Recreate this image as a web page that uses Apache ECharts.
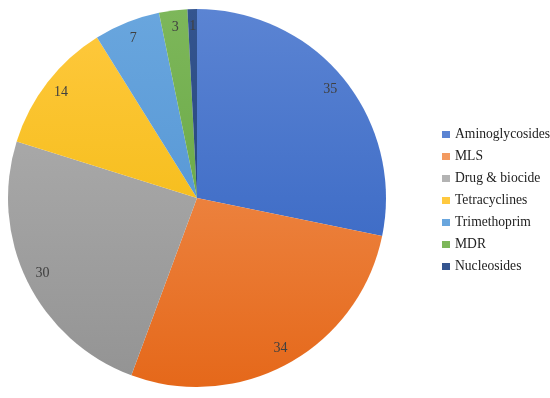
<!DOCTYPE html>
<html>
<head>
<meta charset="utf-8">
<script src="https://cdn.jsdelivr.net/npm/echarts@6/dist/echarts.min.js"></script>
<style>html,body{margin:0;padding:0;background:#fff;}#c{width:550px;height:398px;}</style>
</head>
<body>
<div id="c"></div>
<script>
const categories = ['Aminoglycosides', 'MLS', 'Drug & biocide', 'Tetracyclines', 'Trimethoprim', 'MDR', 'Nucleosides'];
const values = [35, 34, 30, 14, 7, 3, 1];
const topColors = ['#5b84d3', '#f39a60', '#b3b3b3', '#ffc93f', '#69a6de', '#7db75a', '#34558f'];
const bottomColors = ['#2d5ebf', '#e5681a', '#939393', '#eeb500', '#4a8dcf', '#5e9f3a', '#1f3c70'];

const chart = echarts.init(document.getElementById('c'), null, {renderer: 'canvas'});
const cx = 197, cy = 198, R = 189;
function grad(i) {
  return new echarts.graphic.LinearGradient(0, cy - R, 0, cy + R, [
    {offset: 0, color: topColors[i]},
    {offset: 1, color: bottomColors[i]}
  ], true);
}
const mainData = categories.map((n, i) => ({name: n, value: values[i], itemStyle: {color: grad(i)}}));
const labelData = categories.map((n, i) => ({name: n, value: values[i]}));
chart.setOption({
  animation: false,
  color: bottomColors,
  legend: {
    orient: 'vertical',
    left: 437,
    top: 122,
    icon: 'rect',
    itemWidth: 8,
    itemHeight: 7,
    itemGap: 7,
    data: categories.map((n, i) => ({name: n, itemStyle: {color: grad(i)}})),
    textStyle: {fontFamily: 'Liberation Serif', fontSize: 13.6, color: '#222', lineHeight: 15}
  },
  series: [
    {
      type: 'pie',
      center: [cx, cy],
      radius: [0, R],
      startAngle: 90,
      clockwise: true,
      silent: true,
      label: {show: false},
      labelLine: {show: false},
      itemStyle: {borderWidth: 0},
      data: mainData
    },
    {
      type: 'pie',
      center: [cx, cy],
      radius: [149, R],
      startAngle: 90,
      clockwise: true,
      silent: true,
      legendHoverLink: false,
      itemStyle: {color: 'rgba(0,0,0,0)', borderWidth: 0},
      label: {show: true, position: 'inside', formatter: '{c}', fontFamily: 'Liberation Serif', fontSize: 14, color: '#404040'},
      labelLine: {show: false},
      data: labelData
    }
  ]
});
</script>
</body>
</html>
